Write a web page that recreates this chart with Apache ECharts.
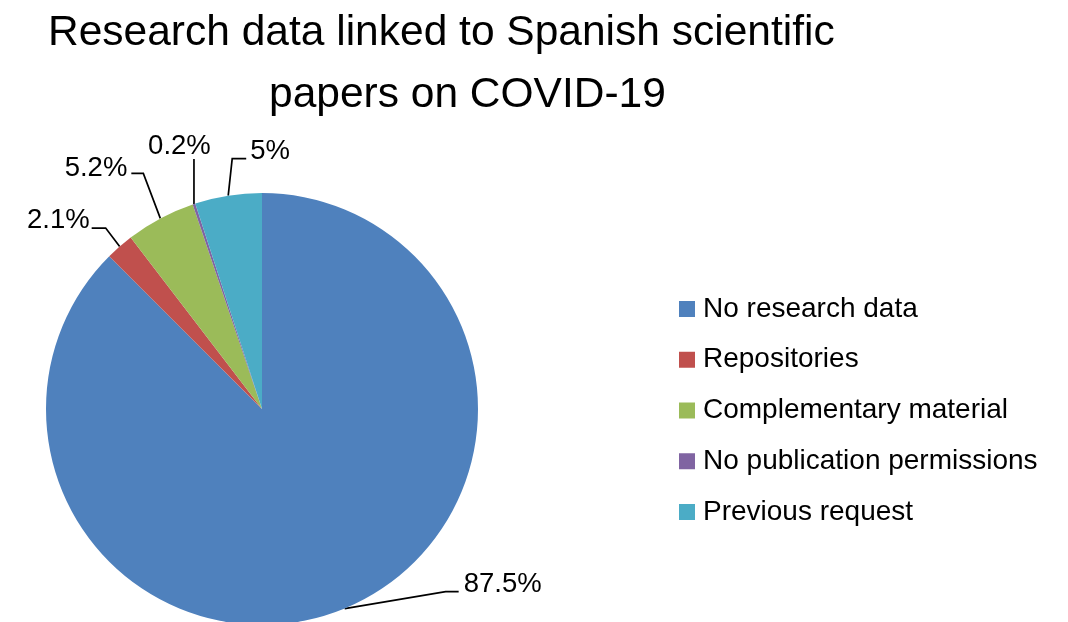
<!DOCTYPE html>
<html>
<head>
<meta charset="utf-8">
<title>Research data linked to Spanish scientific papers on COVID-19</title>
<script src="https://cdn.jsdelivr.net/npm/echarts@6/dist/echarts.min.js"></script>
<style>
  html, body { margin: 0; padding: 0; background: #ffffff; }
  #chart { width: 1068px; height: 622px; }
</style>
</head>
<body>
<div id="chart"></div>
<script>
// Share of papers by where their research data can be found (%)
const categories = [
  'No research data',
  'Repositories',
  'Complementary material',
  'No publication permissions',
  'Previous request'
];
const shares = [87.5, 2.1, 5.2, 0.2, 5];
const sliceColors = ['#4F81BD', '#C0504D', '#9BBB59', '#8064A2', '#4BACC6'];

// Pie geometry
const PIE_CENTER = [262, 409];
const PIE_RADIUS = 216;
const FONT = '"Liberation Sans", Arial, Helvetica, sans-serif';

// Leader line for each slice: elbow offset from the rim, horizontal run,
// and where the text sits relative to the end of the line.
const guides = [
  { elbow: [101, -17],   run: 13,  text: [5, -7.5],   align: 'left' },
  { elbow: [-14, -18.5], run: -14, text: [-2, -7.5],  align: 'right' },
  { elbow: [-17, -45],   run: -12, text: [-4, -5.5],  align: 'right' },
  { elbow: [0, -45],     run: 0,   text: [-14.5, -13], align: 'center' },
  { elbow: [4, -37],     run: 14,  text: [4, -7],     align: 'left' }
];

function rimPoint(index) {
  const total = shares.reduce((a, b) => a + b, 0);
  let before = 0;
  for (let k = 0; k < index; k++) before += shares[k];
  // clockwise from 12 o'clock
  const mid = (before + shares[index] / 2) / total * Math.PI * 2;
  return [
    PIE_CENTER[0] + PIE_RADIUS * Math.sin(mid),
    PIE_CENTER[1] - PIE_RADIUS * Math.cos(mid)
  ];
}

const chart = echarts.init(document.getElementById('chart'), null, { renderer: 'canvas' });

const titleStyle = {
  fontFamily: FONT,
  fontSize: 42.5,
  fontWeight: 'normal',
  color: '#000000',
  lineHeight: 42.5
};

chart.setOption({
  animation: false,
  backgroundColor: '#ffffff',
  color: sliceColors,
  title: [
    { text: 'Research data linked to Spanish scientific', left: 48, top: 12.5, padding: 0, textStyle: titleStyle },
    { text: 'papers on COVID-19', left: 269, top: 74, padding: 0, textStyle: titleStyle }
  ],
  legend: {
    orient: 'vertical',
    left: 679,
    top: 294,
    padding: 0,
    icon: 'rect',
    itemWidth: 16,
    itemHeight: 16,
    itemGap: 20.75,
    selectedMode: false,
    data: categories,
    textStyle: { fontFamily: FONT, fontSize: 28, lineHeight: 30, color: '#000000', padding: [0, 0, 0, 3] }
  },
  series: [{
    type: 'pie',
    center: PIE_CENTER,
    radius: PIE_RADIUS,
    startAngle: 90,
    clockwise: true,
    avoidLabelOverlap: false,
    silent: true,
    itemStyle: { borderWidth: 0 },
    label: {
      show: true,
      position: 'outside',
      formatter: '{c}%',
      fontFamily: FONT,
      fontSize: 27.5,
      color: '#000000'
    },
    labelLine: {
      show: true,
      smooth: false,
      lineStyle: { color: '#000000', width: 1.7 }
    },
    labelLayout: function (p) {
      const i = p.dataIndex;
      const g = guides[i];
      const rim = rimPoint(i);
      const elbow = [rim[0] + g.elbow[0], rim[1] + g.elbow[1]];
      const end = [elbow[0] + g.run, elbow[1]];
      return {
        x: end[0] + g.text[0],
        y: end[1] + g.text[1],
        align: g.align,
        verticalAlign: 'middle',
        labelLinePoints: [rim, elbow, end]
      };
    },
    data: categories.map((name, i) => ({ name: name, value: shares[i] }))
  }]
});
</script>
</body>
</html>
